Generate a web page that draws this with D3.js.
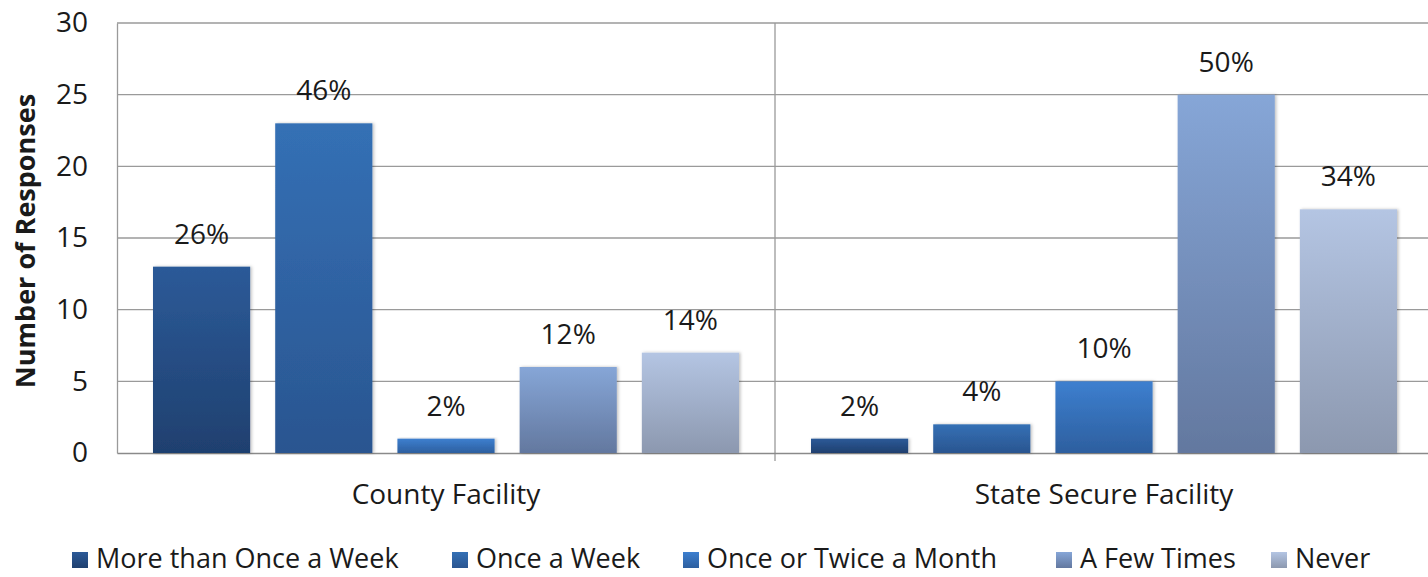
<html>
<head>
<meta charset="UTF-8">
<script src="https://d3js.org/d3.v7.min.js"></script>
<style>
  body { margin: 0; background: #fff; }
  text { font-family: "Open Sans", sans-serif; fill: #1a1a1a; }
</style>
</head>
<body>
<svg id="chart" width="1428" height="577"></svg>
<script>
  // Data
  const facilities = [ "County Facility", "State Secure Facility" ];
  const frequencies = [ "More than Once a Week", "Once a Week", "Once or Twice a Month", "A Few Times", "Never" ];
  const countyValues = [ 13, 23, 1, 6, 7 ];
  const stateValues = [ 1, 2, 5, 25, 17 ];
  const countyLabels = [ "26%", "46%", "2%", "12%", "14%" ];
  const stateLabels = [ "2%", "4%", "10%", "50%", "34%" ];
  const yTicks = [ 0, 5, 10, 15, 20, 25, 30 ];

  // gradient colours per series (top, bottom)
  const colors = [
    [ "#2c5a98", "#1f406f" ],
    [ "#3470b5", "#2a5590" ],
    [ "#3d7fcf", "#2d5f9f" ],
    [ "#86a6d7", "#63789f" ],
    [ "#b4c5e3", "#8c98af" ]
  ];

  const rows = [
    { name: facilities[ 0 ], values: countyValues, labels: countyLabels },
    { name: facilities[ 1 ], values: stateValues, labels: stateLabels }
  ];

  // Dimensions
  const plotLeft = 117, plotRight = 1433, plotTop = 23, plotBottom = 453;
  const fontSize = "28px";

  const svg = d3.select( "#chart" );

  // gradients + shadow
  const defs = svg.append( "defs" );
  colors.forEach( function ( c, i ) {
    const g = defs.append( "linearGradient" )
      .attr( "id", "grad" + i )
      .attr( "x1", 0 ).attr( "y1", 0 ).attr( "x2", 0 ).attr( "y2", 1 );
    g.append( "stop" ).attr( "offset", "0%" ).attr( "stop-color", c[ 0 ] );
    g.append( "stop" ).attr( "offset", "100%" ).attr( "stop-color", c[ 1 ] );
  } );
  const shadow = defs.append( "filter" ).attr( "id", "shadow" )
    .attr( "x", "-10%" ).attr( "y", "-10%" ).attr( "width", "130%" ).attr( "height", "130%" );
  shadow.append( "feDropShadow" )
    .attr( "dx", 1.5 ).attr( "dy", 0 ).attr( "stdDeviation", 1.5 )
    .attr( "flood-color", "#000" ).attr( "flood-opacity", 0.25 );

  // Scales
  const x0 = d3.scaleBand()
    .domain( facilities )
    .range( [ plotLeft, plotRight ] );

  const x1 = d3.scaleBand()
    .domain( frequencies )
    .range( [ 36, x0.bandwidth() - 36 ] )
    .paddingInner( 0.205 );

  const y = d3.scaleLinear()
    .domain( [ 0, 30 ] )
    .range( [ plotBottom, plotTop ] );

  // Gridlines
  svg.append( "g" )
    .selectAll( "line" )
    .data( yTicks.filter( d => d > 0 ) )
    .enter().append( "line" )
    .attr( "x1", plotLeft ).attr( "x2", plotRight )
    .attr( "y1", d => y( d ) ).attr( "y2", d => y( d ) )
    .attr( "stroke", "#9a9a9a" ).attr( "stroke-width", 1.3 );

  // Category divider
  svg.append( "line" )
    .attr( "x1", x0( facilities[ 1 ] ) ).attr( "x2", x0( facilities[ 1 ] ) )
    .attr( "y1", plotTop ).attr( "y2", plotBottom + 8 )
    .attr( "stroke", "#9a9a9a" ).attr( "stroke-width", 1.3 );

  // Y axis
  const yAxis = svg.append( "g" )
    .attr( "transform", "translate(" + plotLeft + ",0)" )
    .call( d3.axisLeft( y ).tickValues( yTicks ).tickSize( 0 ).tickPadding( 29 ) );
  yAxis.select( ".domain" ).attr( "stroke", "#9a9a9a" ).attr( "stroke-width", 1.3 );
  yAxis.selectAll( "text" )
    .style( "font-family", "'Open Sans', sans-serif" )
    .style( "font-size", fontSize )
    .attr( "fill", "#1a1a1a" );

  // X axis
  const xAxis = svg.append( "g" )
    .attr( "transform", "translate(0," + plotBottom + ")" )
    .call( d3.axisBottom( x0 ).tickSize( 0 ).tickPadding( 31 ) );
  xAxis.select( ".domain" ).attr( "stroke", "#8a8a8a" ).attr( "stroke-width", 1.5 );
  xAxis.selectAll( "text" )
    .style( "font-family", "'Open Sans', sans-serif" )
    .style( "font-size", fontSize )
    .attr( "fill", "#1a1a1a" );

  // Bars
  const groups = svg.append( "g" )
    .selectAll( "g" )
    .data( rows )
    .enter().append( "g" )
    .attr( "transform", d => "translate(" + x0( d.name ) + ",0)" );

  groups.selectAll( "rect" )
    .data( d => d.values.map( ( v, i ) => ( { key: frequencies[ i ], value: v, i: i } ) ) )
    .enter().append( "rect" )
    .attr( "x", d => x1( d.key ) )
    .attr( "width", x1.bandwidth() )
    .attr( "y", d => y( d.value ) )
    .attr( "height", d => y( 0 ) - y( d.value ) )
    .attr( "fill", d => "url(#grad" + d.i + ")" )
    .attr( "filter", "url(#shadow)" );

  // Data labels
  groups.selectAll( "text.lbl" )
    .data( d => d.values.map( ( v, i ) => ( { key: frequencies[ i ], value: v, label: d.labels[ i ] } ) ) )
    .enter().append( "text" )
    .attr( "class", "lbl" )
    .attr( "x", d => x1( d.key ) + x1.bandwidth() / 2 )
    .attr( "y", d => y( d.value ) - 23 )
    .attr( "text-anchor", "middle" )
    .style( "font-size", fontSize )
    .text( d => d.label );

  // Y axis title
  svg.append( "text" )
    .attr( "transform", "translate(35," + ( ( plotTop + plotBottom ) / 2 + 3 ) + ") rotate(-90)" )
    .attr( "text-anchor", "middle" )
    .style( "font-size", "27px" )
    .style( "font-weight", "bold" )
    .text( "Number of Responses" );

  // Legend
  const legendX = [ 72, 452, 683, 1056, 1271 ];
  const legend = svg.append( "g" )
    .selectAll( "g" )
    .data( frequencies )
    .enter().append( "g" )
    .attr( "transform", ( d, i ) => "translate(" + legendX[ i ] + ",552)" );
  legend.append( "rect" )
    .attr( "width", 16 ).attr( "height", 16 )
    .attr( "fill", ( d, i ) => "url(#grad" + i + ")" );
  legend.append( "text" )
    .attr( "x", 24 ).attr( "y", 16 )
    .style( "font-size", "27px" )
    .text( d => d );
</script>
</body>
</html>
